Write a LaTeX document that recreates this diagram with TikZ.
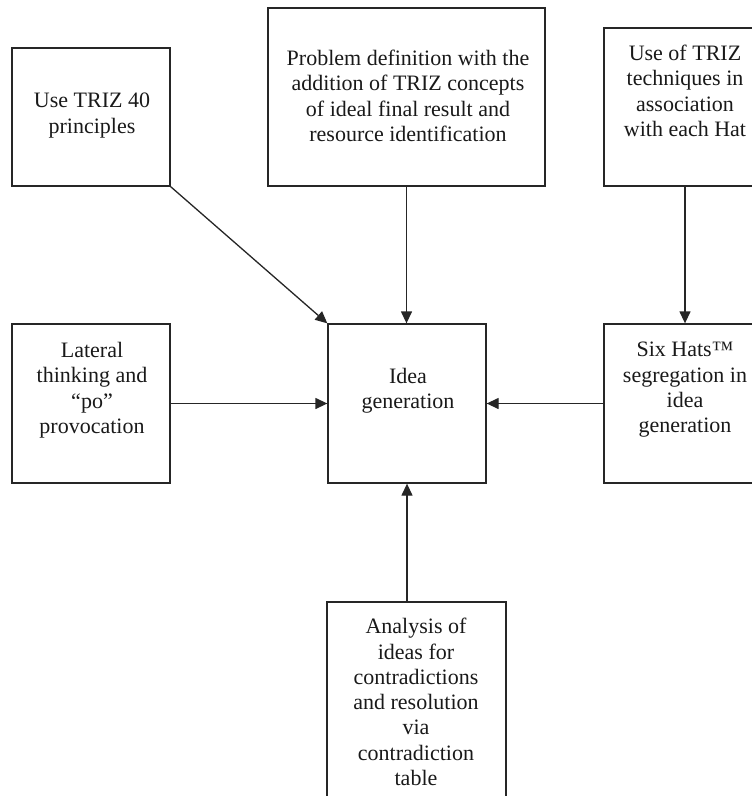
\documentclass[tikz,border=0pt]{standalone}
\usepackage{fontspec}
\setmainfont{Liberation Serif}
\usetikzlibrary{arrows.meta}
\begin{document}
\begin{tikzpicture}[x=1pt,y=-1pt,
  blk/.style={draw=black!85, line width=1.3pt, rectangle, inner sep=0pt},
  lbl/.style={font=\fontsize{22}{25.3}\selectfont, align=center, inner sep=0pt, anchor=north, text=black!90},
  flow/.style={draw=black!85, line width=1.3pt, -{Triangle[length=12pt,width=11pt]}}]
  \useasboundingbox (0,0) rectangle (752,796);
  \clip (0,0) rectangle (752,796);

  % boxes
  \node[blk, minimum width=158pt, minimum height=138pt] (usep) at (91,117) {};
  \node[blk, minimum width=277pt, minimum height=178pt] (probdef) at (406.5,97) {};
  \node[blk, minimum width=162pt, minimum height=158pt] (techhat) at (685,107) {};
  \node[blk, minimum width=158pt, minimum height=159pt] (lateral) at (91,403.5) {};
  \node[blk, minimum width=158pt, minimum height=159pt] (idea) at (407,403.5) {};
  \node[blk, minimum width=162pt, minimum height=159pt] (sixhats) at (685,403.5) {};
  \node[blk, minimum width=179pt, minimum height=240pt] (analysis) at (416.5,722) {};

  % labels
  \node[lbl] (usep-t) at (92,93) {Use TRIZ 40\\principles};
  \node[lbl] (probdef-t) at (408,50) {Problem definition with the\\addition of TRIZ concepts\\of ideal final result and\\resource identification};
  \node[lbl] (techhat-t) at (685,45) {Use of TRIZ\\techniques in\\association\\with each Hat};
  \node[lbl] (lateral-t) at (92,342) {Lateral\\thinking and\\“po”\\provocation};
  \node[lbl] (idea-t) at (408,368) {Idea\\generation};
  \node[lbl] (sixhats-t) at (685,342) {Six Hats™\\segregation in\\idea\\generation};
  \node[lbl] (analysis-t) at (416,618) {Analysis of\\ideas for\\contradictions\\and resolution\\via\\contradiction\\table};

  % connectors
  \draw[flow] (usep.south east) -- (idea.north west);
  \draw[flow] (probdef.south) -- (probdef.south |- idea.north);
  \draw[flow] (techhat.south) -- (sixhats.north);
  \draw[flow] (lateral.east) -- (idea.west);
  \draw[flow] (sixhats.west) -- (idea.east);
  \draw[flow] (idea.south |- analysis.north) -- (idea.south);
\end{tikzpicture}
\end{document}
